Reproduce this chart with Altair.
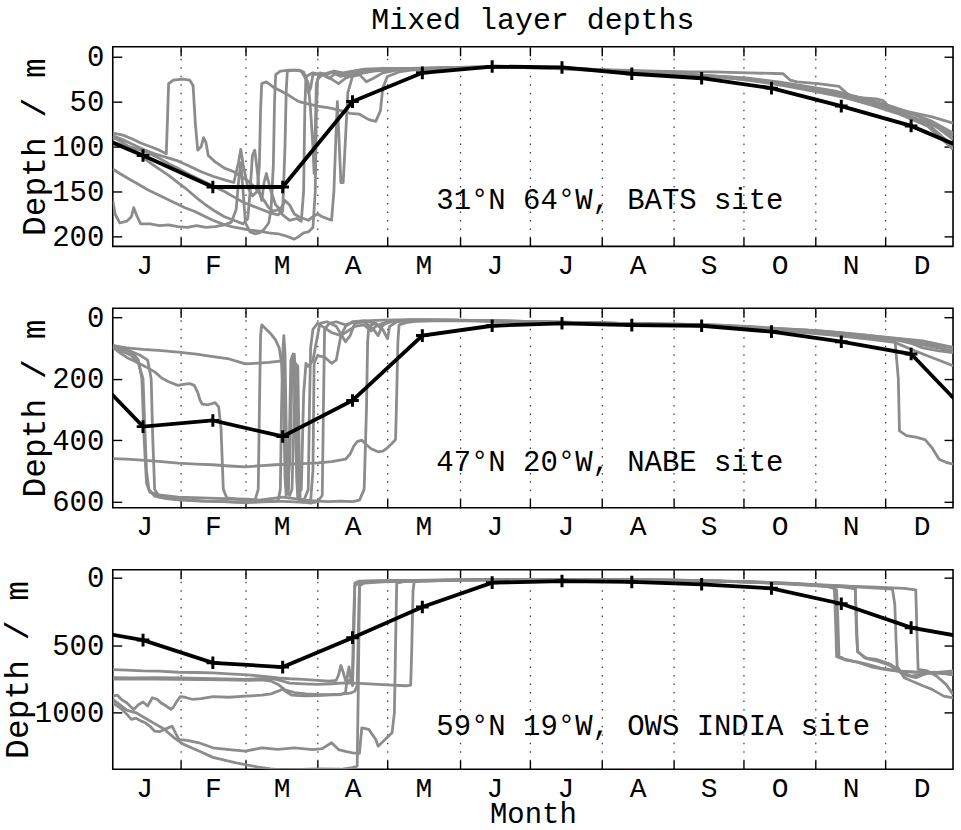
import json
import altair as alt
import pandas as pd

FONT = "Liberation Mono"
GRAY = "#8c8c8c"

# ---- calendar geometry (day of year, 1 Jan = 0) ----
MONTH_LETTERS = ["J", "F", "M", "A", "M", "J", "J", "A", "S", "O", "N", "D"]
MONTH_MIDS = [15.5, 45, 74.5, 105, 135.5, 166, 196.5, 227.5, 258, 288.5, 319, 349.5]
MONTH_EDGES = [31, 59, 90, 120, 151, 181, 212, 243, 273, 304, 334]
DAY_RANGE = [2, 363]

# monthly-mean climatology is plotted at these days
CLIM_DAYS = [15, 45, 75, 105, 135, 165, 195, 225, 255, 285, 315, 345]

# ---- 31N 64W, BATS ----
BATS_CLIM = [110, 145, 145, 50, 18, 11, 12, 19, 24, 35, 55, 77]
BATS_YTICKS = [0, 50, 100, 150, 200]
BATS_DOMAIN = [-11, 211]
BATS_YEARS = {
    "y1": [(2, 85), (6, 87), (10, 91), (14, 96), (18, 100), (22, 104), (25, 108), (25.5, 70), (26, 30), (28, 26),
           (32, 25), (35, 26), (36.5, 32), (37.5, 75), (38.5, 104), (40, 100), (41, 90), (42, 95), (43, 110),
           (46, 117), (50, 124), (54, 128), (57, 133), (60, 138), (63, 145), (65, 152), (67, 160), (69, 168),
           (71, 172), (73, 170), (75, 176), (78, 182), (81, 180), (83, 183), (84, 150), (84.5, 60), (85, 22),
           (88, 18), (92, 20), (96, 17), (100, 22), (104, 18), (108, 16), (114, 15), (120, 14), (130, 14),
           (140, 13), (150, 12), (160, 11), (175, 12), (190, 12), (205, 14), (220, 16), (235, 18), (250, 20),
           (262, 22), (275, 24), (288, 28), (300, 33), (312, 38), (324, 46), (336, 55), (348, 66), (356, 78),
           (363, 92)],
    "y2": [(2, 88), (6, 92), (10, 97), (15, 103), (20, 108), (25, 112), (30, 116), (35, 122), (40, 128), (45, 133),
           (50, 137), (54, 140), (56, 118), (57, 103), (58, 120), (60, 145), (62, 155), (64, 150), (65, 120),
           (65.5, 60), (66, 30), (68, 28), (71, 34), (74, 38), (77, 42), (80, 47), (82, 50), (85, 52), (90, 55),
           (95, 57), (100, 60), (104, 63), (108, 64), (112, 70), (115, 72), (117, 60), (118, 35), (120, 22),
           (125, 17), (130, 15), (140, 13), (150, 13), (165, 12), (180, 12), (195, 13), (210, 15), (225, 17),
           (240, 19), (255, 22), (268, 24), (280, 28), (292, 33), (304, 39), (316, 45), (328, 53), (340, 62),
           (352, 74), (363, 100)],
    "y3": [(2, 125), (5, 130), (9, 136), (13, 142), (17, 148), (21, 153), (25, 158), (29, 163), (33, 168),
           (37, 172), (41, 177), (45, 182), (49, 186), (53, 189), (57, 191), (61, 193), (65, 194), (69, 196),
           (73, 197), (77, 200), (80, 203), (82, 200), (84, 196), (86, 195), (88, 190), (89, 150), (89.5, 60),
           (90, 25), (92, 20), (95, 24), (98, 18), (102, 22), (106, 20), (110, 17), (116, 15), (124, 14),
           (135, 13), (150, 12), (165, 12), (180, 12), (200, 13), (215, 15), (230, 17), (245, 19), (258, 21),
           (270, 23), (282, 27), (294, 31), (306, 37), (318, 43), (330, 50), (342, 60), (354, 72), (363, 85)],
    "y4": [(2, 160), (3, 175), (5, 185), (8, 183), (10, 178), (11, 168), (12.5, 178), (14, 186), (18, 186),
           (22, 188), (26, 187), (30, 189), (34, 190), (38, 188), (42, 190), (46, 189), (50, 187), (53, 184),
           (55, 170), (56, 140), (57, 118), (58, 150), (59, 185), (61, 195), (63, 197), (65, 196), (67, 192),
           (69, 185), (70, 170), (71, 120), (71.5, 50), (72, 20), (74, 16), (78, 15), (82, 15), (84, 17),
           (86, 30), (87, 60), (88, 100), (88.5, 130), (89, 80), (89.5, 30), (91, 18), (94, 20), (97, 16),
           (101, 18), (105, 16), (110, 14), (118, 13), (130, 13), (145, 12), (160, 12), (175, 12), (190, 13),
           (205, 14), (220, 15), (235, 16), (250, 17), (260, 17), (275, 18), (290, 19), (293, 26), (296, 28),
           (305, 30), (314, 33), (317, 40), (320, 45), (330, 47), (333, 49), (336, 57), (345, 62), (354, 67),
           (363, 74)],
    "y5": [(2, 90), (6, 95), (10, 102), (14, 110), (18, 118), (22, 125), (26, 132), (30, 140), (34, 148),
           (38, 157), (42, 165), (46, 172), (50, 178), (54, 182), (58, 186), (60, 180), (61, 150), (62, 110),
           (63, 104), (64, 125), (65, 150), (66, 160), (67, 140), (68, 130), (70, 150), (72, 165), (74, 170),
           (76, 160), (78, 165), (80, 175), (82, 178), (84, 180), (86, 182), (88, 178), (90, 175), (92, 178),
           (94, 180), (96, 182), (97, 150), (98, 80), (98.5, 50), (99, 80), (100, 140), (101, 140), (102, 90),
           (103, 40), (105, 22), (108, 20), (111, 28), (114, 24), (118, 18), (124, 15), (132, 14), (145, 13),
           (160, 12), (175, 12), (190, 13), (205, 15), (220, 17), (235, 19), (250, 21), (263, 23), (276, 26),
           (290, 31), (303, 37), (316, 45), (328, 54), (340, 64), (352, 77), (363, 103)],
    "y6": [(2, 95), (6, 98), (10, 101), (14, 104), (18, 108), (22, 113), (26, 119), (30, 124), (34, 130),
           (38, 135), (42, 140), (46, 145), (50, 150), (54, 156), (58, 162), (62, 166), (66, 170), (70, 174),
           (73, 176), (75, 172), (76, 100), (76.5, 40), (77, 16), (80, 15), (83, 16), (85, 25), (86, 40),
           (87, 35), (88, 20), (92, 19), (96, 25), (99, 30), (102, 24), (106, 20), (110, 18), (114, 16),
           (120, 15), (130, 14), (145, 13), (160, 12), (175, 12), (190, 12), (205, 14), (220, 16), (235, 18),
           (250, 20), (262, 22), (275, 25), (288, 29), (300, 34), (312, 40), (324, 48), (336, 57), (348, 70),
           (356, 78), (363, 88)],
}

# ---- 47N 20W, NABE ----
NABE_CLIM = [356, 336, 388, 271, 60, 28, 20, 26, 28, 47, 80, 120]
NABE_YTICKS = [0, 200, 400, 600]
NABE_DOMAIN = [-29, 620]
NABE_YEARS = {
    "y1": [(2, 93), (8, 100), (15, 105), (23, 109), (30, 114), (38, 120), (45, 128), (52, 136), (59, 152),
           (63, 150), (69, 147), (75, 142), (76, 300), (77, 560), (78, 470), (79, 200), (80, 120), (81, 300),
           (82, 570), (83, 560), (84, 250), (85, 150), (86, 160), (88, 140), (90, 60), (91, 20), (94, 15),
           (98, 30), (100, 55), (102, 80), (104, 60), (106, 20), (110, 15), (114, 40), (116, 60), (118, 25),
           (122, 12), (130, 10), (140, 10), (160, 12), (180, 15), (200, 18), (220, 20), (240, 22), (260, 25),
           (275, 30), (290, 38), (305, 44), (320, 55), (335, 66), (350, 77), (363, 98)],
    "y2": [(2, 95), (5, 100), (8, 108), (11, 120), (13, 140), (14.5, 200), (15.5, 400), (16.5, 540), (18, 570),
           (22, 578), (30, 585), (40, 588), (50, 590), (60, 592), (65, 595), (70, 590), (75, 585), (80, 590),
           (85, 595), (90, 598), (95, 600), (100, 598), (105, 600), (108, 595), (110, 560), (111, 300),
           (111.5, 80), (112, 30), (115, 20), (118, 40), (120, 70), (121, 30), (124, 15), (128, 12), (135, 10),
           (150, 10), (170, 13), (190, 16), (210, 19), (230, 22), (250, 25), (265, 28), (280, 35), (295, 42),
           (310, 52), (325, 63), (338, 72), (345, 85), (350, 100), (357, 110), (363, 115)],
    "y3": [(2, 98), (5, 115), (8, 131), (11, 142), (14, 153), (17, 165), (20, 178), (23, 198), (26, 210),
           (30, 222), (33, 218), (35, 216), (37, 222), (38.5, 245), (39.5, 270), (40.5, 283), (43, 285),
           (46, 278), (47.5, 292), (48.5, 360), (49.5, 560), (51, 588), (55, 592), (60, 596), (63, 598),
           (64.5, 560), (65, 300), (65.5, 60), (66, 25), (68, 40), (70, 55), (72, 75), (73.5, 100), (74.5, 150),
           (75.5, 300), (76, 520), (76.5, 580), (77.5, 560), (78, 350), (78.5, 140), (79.5, 120), (80.5, 300),
           (81, 520), (81.5, 590), (83, 600), (87, 605), (90, 600), (92, 580), (92.5, 300), (93, 40), (95, 20),
           (98, 15), (102, 25), (106, 15), (110, 12), (118, 10), (130, 8), (150, 10), (170, 12), (190, 16),
           (210, 19), (230, 22), (250, 25), (265, 30), (280, 40), (290, 45), (300, 42), (310, 55), (325, 64),
           (340, 74), (352, 88), (363, 100)],
    "y4": [(2, 460), (8, 462), (16, 466), (23, 470), (30, 475), (38, 478), (45, 480), (52, 484), (59, 487),
           (66, 483), (72, 480), (78, 478), (84, 476), (90, 474), (96, 470), (102, 462), (104, 445),
           (105.5, 420), (107, 405), (109, 400), (111, 415), (113, 428), (116, 438), (118, 436), (120, 425),
           (122, 410), (123.5, 398), (124, 250), (124.5, 80), (125, 25), (128, 18), (132, 14), (140, 12),
           (155, 12), (170, 14), (190, 18), (210, 20), (230, 23), (250, 26), (265, 30), (280, 38), (295, 48),
           (310, 58), (325, 70), (338, 82), (342, 95), (350, 120), (357, 140), (363, 158)],
    "y5": [(2, 100), (6, 110), (10, 125), (13, 150), (15, 200), (15.7, 350), (16.5, 500), (17.5, 560),
           (20, 582), (25, 590), (30, 594), (40, 598), (50, 600), (60, 602), (70, 600), (73, 598), (74, 560),
           (74.5, 300), (75, 120), (75.5, 60), (76, 120), (76.5, 350), (77, 560), (78, 580), (79, 560),
           (80, 300), (80.5, 150), (81.5, 160), (82, 400), (82.5, 590), (84, 598), (86, 560), (86.5, 300),
           (87, 100), (88, 40), (90, 20), (93, 35), (96, 50), (100, 60), (103, 45), (106, 30), (110, 25),
           (113, 45), (115, 30), (118, 20), (122, 12), (130, 10), (145, 10), (165, 12), (185, 15), (205, 18),
           (225, 21), (245, 23), (262, 26), (280, 34), (295, 40), (310, 47), (325, 58), (338, 70),
           (339.5, 200), (340, 370), (343, 385), (347, 390), (351, 398), (354, 425), (357, 462), (360, 472),
           (363, 478)],
    "y6": [(2, 92), (6, 100), (10, 112), (14, 125), (17, 140), (18.5, 200), (19.2, 400), (20, 560), (22, 585),
           (28, 590), (35, 595), (42, 598), (50, 600), (58, 603), (66, 600), (72, 598), (78, 600), (84, 602),
           (87, 598), (88, 500), (88.5, 150), (90, 125), (93, 130), (96, 150), (98, 140), (99, 100), (100, 60),
           (102, 30), (105, 15), (110, 12), (115, 20), (117, 35), (119, 20), (123, 12), (130, 10), (145, 10),
           (165, 12), (185, 15), (205, 18), (225, 21), (245, 24), (262, 28), (280, 35), (295, 42), (310, 50),
           (325, 60), (338, 72), (350, 90), (363, 110)],
}

# ---- 59N 19W, OWS INDIA ----
OWS_CLIM = [462, 630, 662, 444, 217, 37, 25, 32, 49, 79, 193, 370]
OWS_YTICKS = [0, 500, 1000]
OWS_DOMAIN = [-59, 1418]
OWS_YEARS = {
    "y1": [(2, 680), (8, 685), (15, 690), (22, 692), (30, 700), (38, 702), (45, 705), (52, 712), (60, 720),
           (67, 730), (73, 742), (78, 748), (84, 752), (90, 760), (95, 765), (98, 760), (99, 720), (100, 650),
           (101, 700), (102, 760), (104, 765), (105, 700), (105.5, 300), (106, 40), (108, 25), (115, 22),
           (125, 20), (135, 22), (145, 18), (160, 15), (180, 12), (200, 12), (220, 15), (240, 18), (255, 22),
           (270, 30), (285, 40), (300, 55), (310, 68), (313, 90), (313.5, 300), (314, 580), (316, 600),
           (320, 617), (326, 640), (332, 670), (339, 690), (346, 698), (354, 704), (363, 690)],
    "y2": [(2, 740), (10, 742), (20, 740), (30, 741), (40, 745), (50, 750), (59, 753), (65, 748), (70, 746),
           (74, 760), (78, 780), (84, 786), (90, 790), (96, 785), (102, 778), (108, 782), (116, 790), (122, 795),
           (128, 800), (130, 795), (130.5, 500), (131, 100), (131.5, 30), (135, 25), (145, 20), (160, 16),
           (180, 14), (200, 15), (220, 17), (240, 20), (258, 25), (275, 32), (290, 42), (305, 55), (318, 65),
           (321, 85), (321.5, 300), (322, 545), (325, 593), (330, 605), (336, 640), (341, 700), (345, 728),
           (350, 715), (355, 700), (363, 716)],
    "y3": [(2, 750), (10, 748), (20, 750), (30, 752), (40, 755), (50, 757), (60, 760), (66, 757), (70, 765),
           (73, 790), (76, 830), (80, 850), (85, 860), (90, 864), (95, 866), (100, 862), (104, 855), (106, 840),
           (107, 800), (107.5, 400), (108, 50), (110, 30), (118, 28), (126, 22), (138, 18), (150, 15), (170, 13),
           (190, 12), (210, 14), (230, 16), (250, 20), (265, 27), (280, 35), (295, 48), (310, 60), (325, 72),
           (337, 85), (338, 200), (338.5, 450), (339, 655), (342, 741), (346, 770), (350, 800), (354, 827),
           (359, 877), (363, 889)],
    "y4": [(2, 877), (4, 870), (6, 905), (8, 926), (10, 960), (11, 975), (13, 940), (15, 920), (17, 950),
           (19, 889), (21, 900), (23, 930), (25, 950), (27, 975), (28, 960), (29, 930), (31, 880), (33, 885),
           (36, 900), (40, 895), (45, 880), (52, 885), (59, 877), (66, 870), (70, 860), (73, 840), (75, 825),
           (77, 850), (79, 870), (84, 875), (90, 872), (96, 868), (100, 865), (102, 850), (103, 700),
           (103.5, 660), (104, 720), (105, 800), (105.5, 500), (106, 60), (108, 35), (115, 30), (125, 25),
           (140, 20), (160, 16), (180, 14), (200, 14), (220, 16), (240, 19), (258, 24), (275, 30), (290, 40),
           (305, 52), (318, 62), (330, 70), (342, 80), (347, 90), (347.5, 400), (348, 679), (352, 690),
           (356, 730), (360, 790), (363, 864)],
    "y5": [(2, 926), (4, 950), (6, 975), (8, 1010), (10, 1049), (12, 1040), (14, 1060), (16, 1074), (18, 1100),
           (20, 1136), (22, 1140), (24, 1125), (26, 1110), (27.5, 1099), (29, 1150), (30.5, 1198), (34, 1205),
           (39, 1222), (42, 1240), (45, 1259), (52, 1272), (59, 1284), (66, 1259), (73, 1270), (80, 1259),
           (88, 1272), (92, 1265), (96, 1222), (99, 1272), (102, 1285), (105, 1296), (108, 1300), (108.5, 1200),
           (109, 1111), (112, 1123), (115, 1198), (116, 1247), (119, 1198), (122, 1148), (123, 1000),
           (123.5, 500), (124, 40), (127, 30), (135, 25), (150, 20), (170, 15), (190, 13), (210, 14), (230, 16),
           (250, 20), (265, 25), (280, 33), (295, 42), (306, 58), (312, 75), (312.5, 300), (313, 585),
           (317, 610), (322, 625), (328, 660), (334, 680), (341, 695), (348, 700), (356, 708), (363, 695)],
    "y6": [(2, 900), (5, 940), (8, 980), (12, 1000), (16, 1040), (20, 1080), (24, 1120), (28, 1180), (32, 1230),
           (36, 1260), (40, 1290), (45, 1330), (50, 1350), (55, 1370), (59, 1383), (64, 1400), (70, 1415),
           (75, 1425), (80, 1420), (90, 1415), (100, 1418), (105, 1405), (107, 1395), (107.5, 800), (108, 60),
           (110, 40), (120, 30), (130, 25), (145, 20), (165, 15), (185, 13), (205, 14), (225, 16), (245, 19),
           (262, 25), (278, 33), (292, 44), (305, 58), (315, 68), (321, 82), (321.5, 400), (322, 550),
           (326, 600), (331, 620), (336, 650), (342, 720), (347, 740), (352, 705), (357, 705), (363, 720)],
}

SITES = [
    ("31°N 64°W, BATS site", 159, BATS_YEARS, BATS_CLIM, BATS_DOMAIN, BATS_YTICKS),
    ("47°N 20°W, NABE site", 470, NABE_YEARS, NABE_CLIM, NABE_DOMAIN, NABE_YTICKS),
    ("59°N 19°W, OWS INDIA site", 1096, OWS_YEARS, OWS_CLIM, OWS_DOMAIN, OWS_YTICKS),
]
LABEL_DAY = 141

TICK = 9
LABEL_EXPR = json.dumps(MONTH_LETTERS) + "[floor(datum.value / 30.5)]"


def years_frame(years):
    rows = []
    for name, pts in years.items():
        for i, (d, z) in enumerate(pts):
            rows.append({"year": name, "seq": i, "day": d, "depth": z})
    return pd.DataFrame(rows)


def clim_frame(clim):
    # wrap December before January and January after December so the curve runs edge to edge
    days = [CLIM_DAYS[-1] - 360] + CLIM_DAYS + [CLIM_DAYS[0] + 360]
    vals = [clim[-1]] + clim + [clim[0]]
    return pd.DataFrame({"day": days, "depth": vals, "seq": list(range(len(days)))})


def panel(label, label_depth, years, clim, ydomain, yticks, xtitle, ptitle):
    xs = alt.Scale(domain=DAY_RANGE, nice=False, zero=False)
    ys = alt.Scale(domain=ydomain, reverse=True, nice=False, zero=False)

    label_axis = alt.Axis(orient="bottom", values=MONTH_MIDS, labelExpr=LABEL_EXPR, ticks=False,
                          domain=False, grid=False, labelFontSize=28, labelPadding=5,
                          labelFlush=False, labelOverlap=False, titleFontSize=29, titlePadding=-3)
    grid_axis = alt.Axis(orient="bottom", values=MONTH_EDGES, labels=False, ticks=False, domain=False,
                         grid=True, gridColor="#333333", gridDash=[1.5, 7], gridWidth=1.2)
    bottom_ticks = alt.Axis(orient="bottom", values=MONTH_EDGES, labels=False, ticks=True, tickSize=TICK,
                            tickWidth=1.4, offset=-TICK, domain=False, grid=False)
    top_ticks = alt.Axis(orient="top", values=MONTH_EDGES, labels=False, ticks=True, tickSize=TICK,
                         tickWidth=1.4, offset=-TICK, domain=False, grid=False)
    left_axis = alt.Axis(orient="left", values=yticks, format="d", ticks=True, tickSize=TICK, tickWidth=1.4,
                         offset=-TICK, domain=False, grid=False, labelFontSize=29, labelPadding=9,
                         titleFontSize=33, titlePadding=0)
    right_axis = alt.Axis(orient="right", values=yticks, labels=False, ticks=True, tickSize=TICK,
                          tickWidth=1.4, offset=-TICK, domain=False, grid=False)

    gray = alt.Chart(years_frame(years)).mark_line(
        color=GRAY, strokeWidth=2.8, clip=True, strokeJoin="round"
    ).encode(
        x=alt.X("day:Q", scale=xs, axis=label_axis, title=xtitle),
        y=alt.Y("depth:Q", scale=ys, axis=left_axis, title="Depth / m"),
        detail="year:N",
        order=alt.Order("seq:Q"),
    )

    cdf = clim_frame(clim)
    black = alt.Chart(cdf).mark_line(color="black", strokeWidth=3.8, clip=True).encode(
        x=alt.X("day:Q", scale=xs, axis=grid_axis, title=None),
        y=alt.Y("depth:Q", scale=ys, axis=right_axis, title=None),
        order=alt.Order("seq:Q"),
    )
    marks = alt.Chart(pd.DataFrame({"day": CLIM_DAYS, "depth": clim})).mark_point(
        shape="M-1,0L1,0M0,-1L0,1", filled=False, stroke="black", strokeWidth=3, size=160, opacity=1
    ).encode(
        x=alt.X("day:Q", scale=xs, axis=bottom_ticks, title=None),
        y=alt.Y("depth:Q", scale=ys, axis=None),
    )
    text = alt.Chart(pd.DataFrame({"day": [LABEL_DAY], "depth": [label_depth], "t": [label]})).mark_text(
        align="left", baseline="middle", font=FONT, fontSize=29, color="black"
    ).encode(
        x=alt.X("day:Q", scale=xs, axis=top_ticks, title=None),
        y=alt.Y("depth:Q", scale=ys, axis=None),
        text="t:N",
    )

    layer = alt.layer(gray, black, marks, text).resolve_axis(x="independent", y="independent")
    props = dict(width=842, height=200)
    if ptitle:
        props["title"] = alt.TitleParams(ptitle, font=FONT, fontSize=30, fontWeight="normal",
                                         anchor="middle", frame="group", color="black", offset=8)
    return layer.properties(**props)


panels = []
for i, (label, ld, years, clim, dom, ticks) in enumerate(SITES):
    panels.append(panel(label, ld, years, clim, dom, ticks,
                        xtitle="Month" if i == 2 else None,
                        ptitle="Mixed layer depths" if i == 0 else None))

chart = alt.vconcat(*panels, spacing=62, bounds="flush").properties(
    padding={"left": 0, "top": 3, "right": 6, "bottom": 4},
    background="white",
).configure_view(
    stroke="black", strokeWidth=1.6
).configure_axis(
    labelFont=FONT, titleFont=FONT, labelColor="black", titleColor="black",
    tickColor="black", titleFontWeight="normal"
)

chart.save("out.html", embed_options={"renderer": "svg", "actions": False})
